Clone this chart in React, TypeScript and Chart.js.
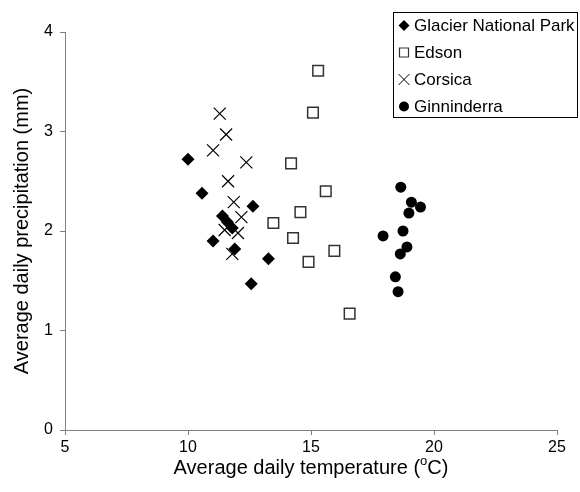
import React, { useEffect, useRef } from "react";
import { Chart, registerables } from "chart.js";

Chart.register(...registerables);

const seriesNames = ["Glacier National Park", "Edson", "Corsica", "Ginninderra"];

const glacierTemp = [10.0, 10.57, 11.02, 11.4, 11.6, 11.8, 11.9, 12.64, 13.27, 12.57];
const glacierPrecip = [2.72, 2.38, 1.9, 2.15, 2.09, 2.03, 1.82, 2.25, 1.72, 1.47];

const edsonTemp = [15.29, 15.08, 14.19, 15.6, 14.57, 13.47, 14.27, 15.95, 14.9, 16.57];
const edsonPrecip = [3.61, 3.19, 2.68, 2.4, 2.19, 2.08, 1.93, 1.8, 1.69, 1.17];

const corsicaTemp = [11.29, 11.55, 11.02, 12.37, 11.63, 11.86, 12.17, 11.49, 12.03, 11.8];
const corsicaPrecip = [3.18, 2.97, 2.81, 2.69, 2.5, 2.29, 2.14, 2.01, 1.98, 1.77];

const ginTemp = [18.65, 19.08, 19.45, 18.98, 18.74, 17.93, 18.9, 18.63, 18.43, 18.54];
const ginPrecip = [2.44, 2.29, 2.24, 2.18, 2.0, 1.95, 1.84, 1.77, 1.54, 1.39];

const xTicks = [5, 10, 15, 20, 25];
const yTicks = [0, 1, 2, 3, 4];

const xTitleMain = "Average daily temperature (";
const xTitleSup = "o";
const xTitleEnd = "C)";
const yTitle = "Average daily precipitation (mm)";

const FONT = "'Liberation Sans', Arial, sans-serif";

function pts(xs: number[], ys: number[]) {
  return xs.map((x, i) => ({ x, y: ys[i] }));
}

function drawMarker(ctx: CanvasRenderingContext2D, kind: string, x: number, y: number) {
  ctx.save();
  ctx.beginPath();
  if (kind === "diamond") {
    const r = 5.5;
    ctx.moveTo(x, y - r);
    ctx.lineTo(x + r, y);
    ctx.lineTo(x, y + r);
    ctx.lineTo(x - r, y);
    ctx.closePath();
    ctx.fillStyle = "#000";
    ctx.fill();
  } else if (kind === "square") {
    const h = 4.5;
    ctx.rect(x - h, y - h, 2 * h, 2 * h);
    ctx.fillStyle = "#fff";
    ctx.fill();
    ctx.strokeStyle = "#333";
    ctx.lineWidth = 1.2;
    ctx.stroke();
  } else if (kind === "cross") {
    const h = 5.5;
    ctx.moveTo(x - h, y - h);
    ctx.lineTo(x + h, y + h);
    ctx.moveTo(x + h, y - h);
    ctx.lineTo(x - h, y + h);
    ctx.strokeStyle = "#000";
    ctx.lineWidth = 1;
    ctx.stroke();
  } else {
    ctx.arc(x, y, 5, 0, Math.PI * 2);
    ctx.fillStyle = "#000";
    ctx.fill();
  }
  ctx.restore();
}

const decorPlugin = {
  id: "decor",
  afterDraw(chart: any) {
    const ctx: CanvasRenderingContext2D = chart.ctx;
    const area = chart.chartArea;
    ctx.save();
    // X title
    ctx.fillStyle = "#000";
    ctx.textBaseline = "middle";
    ctx.font = `20px ${FONT}`;
    const w1 = ctx.measureText(xTitleMain).width;
    const w3 = ctx.measureText(xTitleEnd).width;
    ctx.font = `13px ${FONT}`;
    const w2 = ctx.measureText(xTitleSup).width;
    const total = w1 + w2 + w3;
    const cx = (area.left + area.right) / 2;
    let sx = cx - total / 2;
    const ty = 468;
    ctx.textAlign = "left";
    ctx.font = `20px ${FONT}`;
    ctx.fillText(xTitleMain, sx, ty);
    sx += w1;
    ctx.font = `13px ${FONT}`;
    ctx.fillText(xTitleSup, sx, ty - 7);
    sx += w2;
    ctx.font = `20px ${FONT}`;
    ctx.fillText(xTitleEnd, sx, ty);

    // Y title
    ctx.save();
    ctx.translate(22, (area.top + area.bottom) / 2);
    ctx.rotate(-Math.PI / 2);
    ctx.textAlign = "center";
    ctx.font = `20px ${FONT}`;
    ctx.fillText(yTitle, 0, 0);
    ctx.restore();

    // Legend
    const lx = 393.5, ly = 12.5, lw = 184, lh = 105;
    ctx.fillStyle = "#fff";
    ctx.fillRect(lx, ly, lw, lh);
    ctx.strokeStyle = "#000";
    ctx.lineWidth = 1;
    ctx.strokeRect(lx, ly, lw, lh);
    const kinds = ["diamond", "square", "cross", "circle"];
    seriesNames.forEach((name, i) => {
      const yy = 25.5 + i * 27;
      drawMarker(ctx, kinds[i], 404, yy);
      ctx.fillStyle = "#000";
      ctx.font = `17px ${FONT}`;
      ctx.textAlign = "left";
      ctx.textBaseline = "middle";
      ctx.fillText(name, 414, yy + 1);
    });
    ctx.restore();
  },
};

export default function App() {
  const ref = useRef<HTMLCanvasElement | null>(null);
  useEffect(() => {
    if (!ref.current) return;
    const axisColor = "#808080";
    const chart = new Chart(ref.current, {
      type: "scatter",
      data: {
        datasets: [
          {
            label: seriesNames[0],
            data: pts(glacierTemp, glacierPrecip),
            pointStyle: "rectRot",
            pointRadius: 6.5,
            backgroundColor: "#000",
            borderColor: "#000",
            borderWidth: 0,
          },
          {
            label: seriesNames[1],
            data: pts(edsonTemp, edsonPrecip),
            pointStyle: "rect",
            pointRadius: 7.5,
            backgroundColor: "#fff",
            borderColor: "#333",
            borderWidth: 1.5,
          },
          {
            label: seriesNames[2],
            data: pts(corsicaTemp, corsicaPrecip),
            pointStyle: "crossRot",
            pointRadius: 8.5,
            backgroundColor: "#000",
            borderColor: "#000",
            borderWidth: 1.2,
          },
          {
            label: seriesNames[3],
            data: pts(ginTemp, ginPrecip),
            pointStyle: "circle",
            pointRadius: 5.5,
            backgroundColor: "#000",
            borderColor: "#000",
            borderWidth: 0,
          },
        ],
      },
      options: {
        responsive: false,
        animation: false,
        layout: { padding: { top: 32, right: 23, left: 0, bottom: 0 } },
        plugins: { legend: { display: false }, tooltip: { enabled: false } },
        scales: {
          x: {
            type: "linear",
            min: 5,
            max: 25,
            afterBuildTicks: (s: any) => {
              s.ticks = xTicks.map((v) => ({ value: v }));
            },
            afterFit: (s: any) => {
              s.height = 62;
            },
            ticks: {
              color: "#000",
              font: { family: FONT, size: 16 },
              padding: 3,
              maxRotation: 0,
            },
            grid: {
              drawOnChartArea: false,
              drawTicks: true,
              tickLength: 5,
              color: axisColor,
            },
            border: { color: axisColor, width: 1 },
          },
          y: {
            type: "linear",
            min: 0,
            max: 4,
            afterBuildTicks: (s: any) => {
              s.ticks = yTicks.map((v) => ({ value: v }));
            },
            afterFit: (s: any) => {
              s.width = 65;
            },
            ticks: {
              color: "#000",
              font: { family: FONT, size: 16 },
              padding: 7,
            },
            grid: {
              drawOnChartArea: false,
              drawTicks: true,
              tickLength: 5,
              color: axisColor,
            },
            border: { color: axisColor, width: 1 },
          },
        },
      },
      plugins: [decorPlugin],
    });
    return () => chart.destroy();
  }, []);
  return (
    <div style={{ position: "absolute", left: 0, top: 0, width: 580, height: 492, background: "#fff" }}>
      <canvas ref={ref} width={580} height={492} style={{ width: 580, height: 492 }} />
    </div>
  );
}
